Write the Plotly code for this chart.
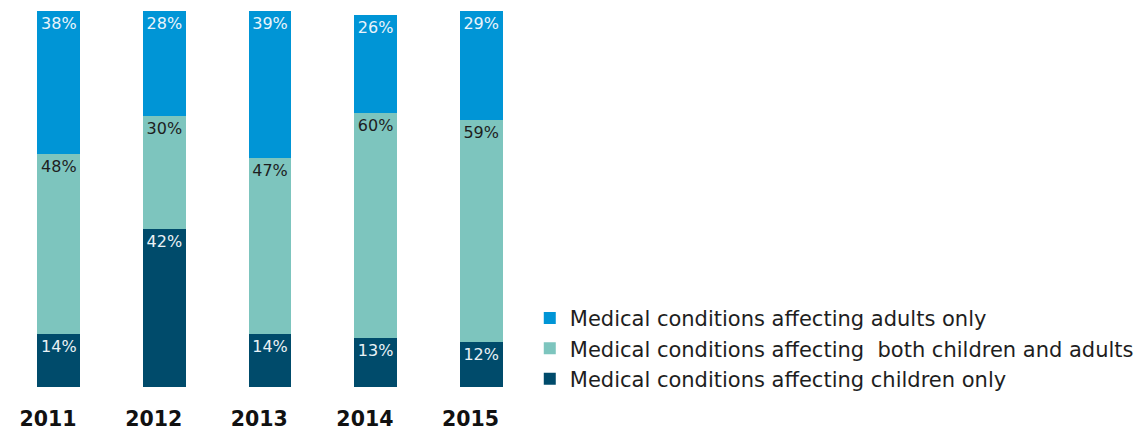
import plotly.graph_objects as go

years = ["2011", "2012", "2013", "2014", "2015"]
children_only = [14, 42, 14, 13, 12]
both = [48, 30, 47, 60, 59]
adults_only = [38, 28, 39, 26, 29]

names = [
    "Medical conditions affecting children only",
    "Medical conditions affecting  both children and adults",
    "Medical conditions affecting adults only",
]
colors = ["#004B6B", "#7DC5BE", "#0095D6"]
text_colors = ["#EAF2F6", "#1E1E1E", "#EAF4FB"]
series = [children_only, both, adults_only]

fig = go.Figure()
for name, vals, col, tcol in zip(names, series, colors, text_colors):
    fig.add_trace(go.Bar(
        x=years, y=vals, name=name,
        marker=dict(color=col, line=dict(width=0)),
        text=[f"{v}%" for v in vals],
        textposition="inside", insidetextanchor="end",
        constraintext="none",
        textfont=dict(family="DejaVu Sans", size=16, color=tcol),
        hoverinfo="skip",
    ))

fig.update_layout(
    width=1145, height=432,
    barmode="stack", bargap=0.593,
    margin=dict(l=6, r=611, t=11, b=45, autoexpand=False),
    paper_bgcolor="white", plot_bgcolor="white",
    showlegend=True,
    legend=dict(
        traceorder="reversed",
        x=0.992, xanchor="left", y=0.237, yanchor="top",
        font=dict(family="DejaVu Sans", size=21, color="#1E1E1E"),
        bgcolor="rgba(0,0,0,0)", itemwidth=30, tracegroupgap=0,
    ),
    xaxis=dict(
        showgrid=False, zeroline=False, showline=False, automargin=False,
        tickmode="array", tickvals=years,
        ticktext=[y + "\u00a0\u00a0\u00a0" for y in years],
        ticks="outside", ticklen=13, tickcolor="rgba(0,0,0,0)",
        tickfont=dict(family="DejaVu Sans", size=20.5, color="#111111", weight="bold"),
    ),
    yaxis=dict(range=[0, 100], visible=False, showgrid=False, zeroline=False),
)

fig.write_html(
    "out.html",
    config={"displayModeBar": False},
    post_script="document.body.style.margin='0';document.body.style.overflow='hidden';",
)
